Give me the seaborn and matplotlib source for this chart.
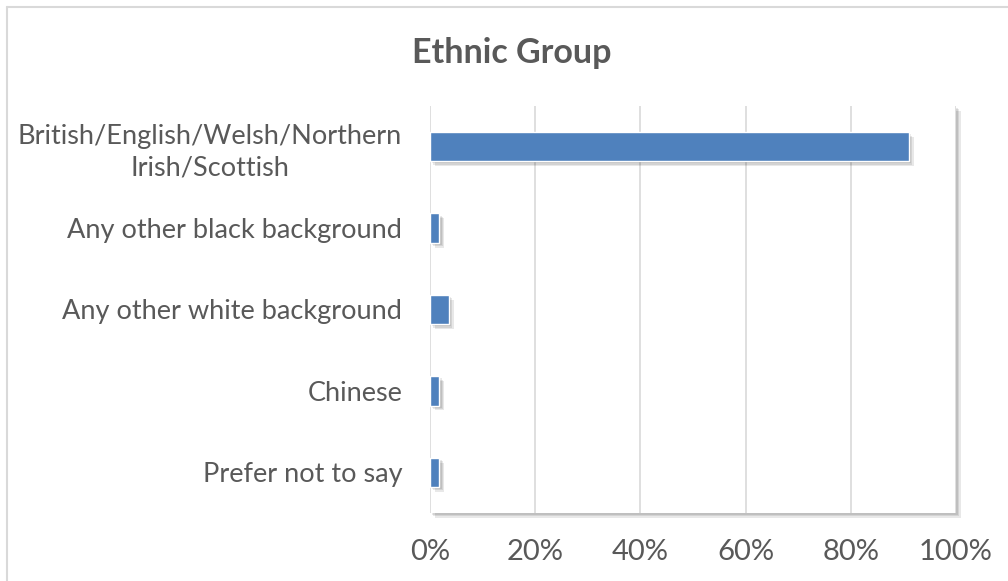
import matplotlib
matplotlib.use("Agg")
import matplotlib.pyplot as plt
import matplotlib.patheffects as pe
from matplotlib.lines import Line2D
from matplotlib.ticker import PercentFormatter
import seaborn as sns
import pandas as pd

categories = [
    "British/English/Welsh/Northern\nIrish/Scottish",
    "Any other black background",
    "Any other white background",
    "Chinese",
    "Prefer not to say",
]
shares = [0.91, 0.018, 0.036, 0.018, 0.018]
x_ticks = [0, 0.2, 0.4, 0.6, 0.8, 1.0]
title = "Ethnic Group"

BAR = "#4F81BD"
TEXT = "#595959"
GRID = "#D9D9D9"

sns.set_theme(style="white")
plt.rcParams["font.family"] = ["Lato", "DejaVu Sans"]

df = pd.DataFrame({"category": categories, "share": shares})

fig = plt.figure(figsize=(10.08, 5.81), dpi=100)
ax = fig.add_axes([430 / 1008, 1 - 513 / 581, 526 / 1008, 407 / 581])

sns.barplot(data=df, x="share", y="category", orient="h", color=BAR,
            saturation=1, width=0.36, ax=ax, zorder=3)


def soft_shadow(alpha):
    effs = [pe.SimplePatchShadow(offset=(o, -o), shadow_rgbFace="#000000", alpha=alpha)
            for o in (3.5, 2.5, 1.5)]
    return effs + [pe.Normal()]


for p in ax.patches:
    p.set_path_effects(soft_shadow(0.09))

ax.patch.set_path_effects(soft_shadow(0.09))

ax.set_xlim(0, 1.0)
ax.set_xticks(x_ticks)
ax.xaxis.set_major_formatter(PercentFormatter(1.0, decimals=0))
ax.grid(axis="x", color=GRID, linewidth=1.2, zorder=0)
ax.set_axisbelow(True)
for s in ax.spines.values():
    s.set_visible(False)
ax.set_xlabel("")
ax.set_ylabel("")
ax.tick_params(axis="x", length=0, pad=19, labelsize=21, labelcolor=TEXT)
ax.tick_params(axis="y", length=0, pad=20, labelsize=19.5, labelcolor=TEXT)
for lbl in ax.get_yticklabels():
    lbl.set_multialignment("center")
    lbl.set_linespacing(1.3)

fig.text(512 / 1008, 1 - 53 / 581, title, ha="center", va="center",
         fontsize=24.5, fontweight="bold", color=TEXT)

# chart outer border (top and left visible)
fig.add_artist(Line2D([7 / 1008, 1.0], [1 - 7 / 581, 1 - 7 / 581], transform=fig.transFigure,
                      color="#D9D9D9", linewidth=1.5))
fig.add_artist(Line2D([7 / 1008, 7 / 1008], [0, 1 - 7 / 581], transform=fig.transFigure,
                      color="#D9D9D9", linewidth=1.5))

fig.savefig("out.png", dpi=100, facecolor="white")
